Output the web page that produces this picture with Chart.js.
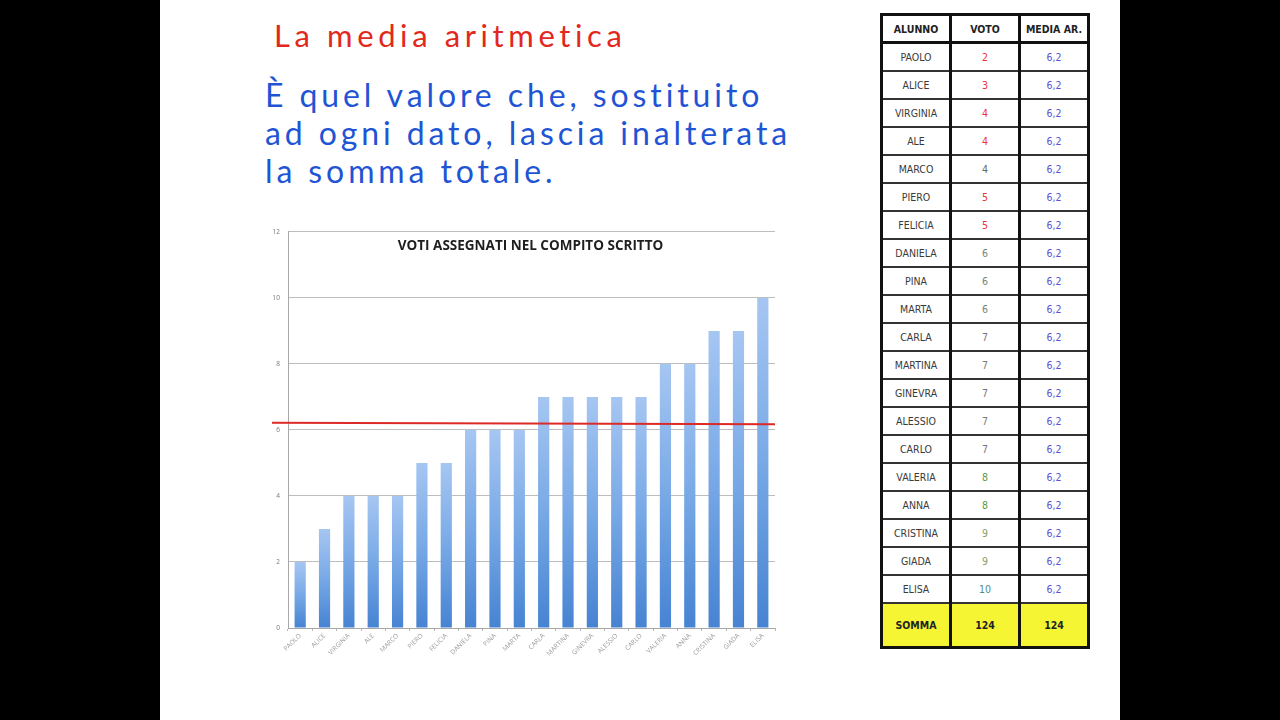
<!DOCTYPE html>
<html>
<head>
<meta charset="utf-8">
<script src="https://cdn.jsdelivr.net/npm/chart.js@4"></script>
<style>
  html, body { margin: 0; padding: 0; background: #000; }
  #page { position: absolute; left: 160px; top: 0; width: 960px; height: 720px; background: #fff; overflow: hidden; }
  .hand { position: absolute; font-family: Lato, "Open Sans", sans-serif; white-space: nowrap; }
  #title { left: 114px; top: 16px; font-size: 31px; color: #e2281c; letter-spacing: 4.6px; }
  #def { left: 105px; top: 76px; font-size: 32px; line-height: 38px; color: #1f55d4; letter-spacing: 3.9px; }
  #chartBox { position: absolute; left: 102px; top: 220px; width: 515px; height: 475px; }
  table { position: absolute; left: 720px; top: 13px; border-collapse: collapse; border: 3px solid #111;
          font-family: "Liberation Sans Narrow", "DejaVu Sans Condensed", "Open Sans", sans-serif; font-size: 10.5px; }
  td, th { border-left: 3px solid #111; border-right: 3px solid #111; border-bottom: 2px solid #333;
           text-align: center; padding: 0; height: 26px; color: #3a3a3a; }
  th { height: 25px; font-weight: bold; color: #222; border-bottom: 3px solid #111; }
  td.c1 { width: 66px; } td.c2 { width: 66px; } td.c3 { width: 66px; color: #5d52d8; }
  tr.tot td { height: 42px; background: #f5f534; font-weight: bold; color: #222; border-bottom: none; }
</style>
</head>
<body>
<div id="page">
  <div class="hand" id="title">La media aritmetica</div>
  <div class="hand" id="def">È quel valore che, sostituito<br>ad ogni dato, lascia inalterata<br>la somma totale.</div>
  <div id="chartBox"><canvas id="myChart"></canvas></div>
  <table id="tab"></table>
</div>
<script>
// Voti del compito scritto
const alunni = ['PAOLO', 'ALICE', 'VIRGINIA', 'ALE', 'MARCO', 'PIERO', 'FELICIA', 'DANIELA', 'PINA', 'MARTA',
                'CARLA', 'MARTINA', 'GINEVRA', 'ALESSIO', 'CARLO', 'VALERIA', 'ANNA', 'CRISTINA', 'GIADA', 'ELISA'];
const voti = [2, 3, 4, 4, 4, 5, 5, 6, 6, 6, 7, 7, 7, 7, 7, 8, 8, 9, 9, 10];
const media = 6.2;
const yTicks = [0, 2, 4, 6, 8, 10, 12];
const chartTitle = 'VOTI ASSEGNATI NEL COMPITO SCRITTO';

// colours of the VOTO column, as in the picture
const votoColors = ['#e8323e', '#e8323e', '#e8323e', '#e8323e', '#5f6b60', '#e8323e', '#e8323e', '#70887a', '#70887a', '#70887a',
                    '#7a7a7a', '#7a7a7a', '#7a7a7a', '#7a7a7a', '#7a7a7a', '#5b9840', '#5b9840', '#84a070', '#84a070', '#4f8a8a'];

// table
const tab = document.getElementById('tab');
let html = '<tr><th>ALUNNO</th><th>VOTO</th><th>MEDIA AR.</th></tr>';
alunni.forEach((a, i) => {
    html += '<tr><td class="c1">' + a + '</td><td class="c2" style="color:' + votoColors[i] + '">' + voti[i] +
            '</td><td class="c3">' + String(media).replace('.', ',') + '</td></tr>';
});
const somma = voti.reduce((s, v) => s + v, 0);
html += '<tr class="tot"><td>SOMMA</td><td>' + somma + '</td><td>' + Math.round(media * alunni.length) + '</td></tr>';
tab.innerHTML = html;

// bar gradient, light at the top of each bar
function barColor(c) {
    const chart = c.chart;
    const y = chart.scales.y;
    if (!chart.chartArea || !y || c.raw === undefined) return '#7aa8e4';
    const top = y.getPixelForValue(c.raw);
    const bottom = y.getPixelForValue(0);
    const g = chart.ctx.createLinearGradient(0, top, 0, bottom);
    g.addColorStop(0, '#a6c6f2');
    g.addColorStop(0.5, '#78a9e6');
    g.addColorStop(1, '#4683d2');
    return g;
}

const extras = {
    id: 'extras',
    afterDatasetsDraw(chart) {
        const ctx = chart.ctx;
        const area = chart.chartArea;
        const yp = chart.scales.y.getPixelForValue(media);
        ctx.save();
        ctx.strokeStyle = '#dc2a26';
        ctx.lineWidth = 2;
        ctx.beginPath();
        ctx.moveTo(area.left - 16, yp - 0.5);
        ctx.lineTo(area.right, yp + 1);
        ctx.stroke();
        ctx.fillStyle = '#1e1e1e';
        ctx.font = 'bold 13.5px "Open Sans", sans-serif';
        ctx.textAlign = 'center';
        ctx.textBaseline = 'middle';
        ctx.fillText(chartTitle, (area.left + area.right) / 2 - 1, area.top + 14);
        ctx.restore();
    }
};

const ctx = document.getElementById('myChart');

new Chart(ctx, {
    type: 'bar',
    data: {
        labels: alunni,
        datasets: [{
            data: voti,
            backgroundColor: barColor,
            borderWidth: 0,
            barPercentage: 0.46,
            categoryPercentage: 1
        }]
    },
    options: {
        responsive: true,
        maintainAspectRatio: false,
        animation: false,
        layout: { padding: { top: 5, right: 2, left: 0, bottom: 0 } },
        plugins: { legend: { display: false }, tooltip: { enabled: false } },
        scales: {
            x: {
                grid: { drawOnChartArea: false, offset: true, tickLength: 3, color: '#bbbbbb' },
                border: { color: '#a8a8a8' },
                ticks: { minRotation: 45, maxRotation: 45, color: '#9a9a9a', padding: 1,
                         font: { family: 'Open Sans', size: 6.5 } },
                afterFit(s) { s.height = 67; }
            },
            y: {
                min: 0,
                max: yTicks[yTicks.length - 1],
                afterBuildTicks(s) { s.ticks = yTicks.map(v => ({ value: v })); },
                grid: { color: '#bdbdbd', drawTicks: false },
                border: { color: '#a8a8a8' },
                ticks: { color: '#777', padding: 8, font: { family: 'Open Sans', size: 6.5 } },
                afterFit(s) { s.width = 26; }
            }
        }
    },
    plugins: [extras]
});
</script>
</body>
</html>
